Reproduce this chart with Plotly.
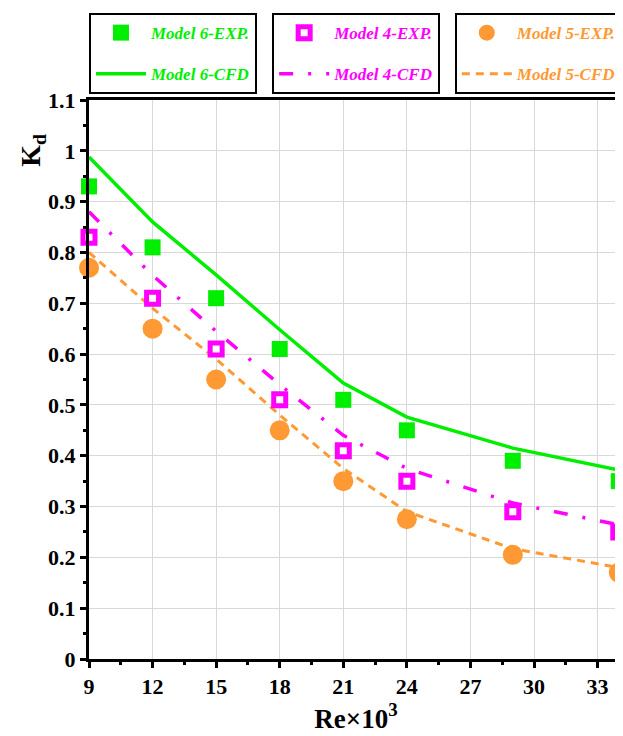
import plotly.graph_objects as go

re_vals = [9, 12, 15, 18, 21, 24, 29, 34]

m6_exp = [0.93, 0.81, 0.71, 0.61, 0.51, 0.45, 0.39, 0.35]
m4_exp = [0.83, 0.71, 0.61, 0.51, 0.41, 0.35, 0.29, 0.25]
m5_exp = [0.77, 0.65, 0.55, 0.45, 0.35, 0.275, 0.205, 0.17]

m6_cfd = [0.988, 0.86, 0.756, 0.648, 0.543, 0.476, 0.415, 0.372]
m4_cfd = [0.88, 0.755, 0.645, 0.54, 0.44, 0.375, 0.307, 0.264]
m5_cfd = [0.80, 0.69, 0.59, 0.48, 0.375, 0.29, 0.217, 0.18]

GREEN = "#00ee00"
MAGENTA = "#ff00ff"
ORANGE = "#ff9933"
SERIF = "Liberation Serif"

fig = go.Figure()

# lines
fig.add_trace(go.Scatter(x=re_vals, y=m6_cfd, mode="lines", name="Model 6-CFD",
                         line=dict(color=GREEN, width=3.5), legend="legend",
                         legendgroup="a2", legendrank=2))
fig.add_trace(go.Scatter(x=re_vals, y=m4_cfd, mode="lines", name="Model 4-CFD",
                         line=dict(color=MAGENTA, width=3.5, dash="14px,15px,3px,15px"),
                         legend="legend2", legendgroup="b2", legendrank=2))
fig.add_trace(go.Scatter(x=re_vals, y=m5_cfd, mode="lines", name="Model 5-CFD",
                         line=dict(color=ORANGE, width=3, dash="8px,6px"),
                         legend="legend3", legendgroup="c2", legendrank=2))

# markers
fig.add_trace(go.Scatter(x=re_vals, y=m6_exp, mode="markers", name="Model 6-EXP.",
                         marker=dict(symbol="square", size=16, color=GREEN),
                         cliponaxis=False, legend="legend", legendgroup="a1", legendrank=1))
fig.add_trace(go.Scatter(x=re_vals, y=m4_exp, mode="markers", name="Model 4-EXP.",
                         marker=dict(symbol="square", size=12, color="white",
                                     line=dict(color=MAGENTA, width=5)),
                         cliponaxis=False, legend="legend2", legendgroup="b1", legendrank=1))
fig.add_trace(go.Scatter(x=re_vals, y=m5_exp, mode="markers", name="Model 5-EXP.",
                         marker=dict(symbol="circle", size=20, color=ORANGE),
                         cliponaxis=False, legend="legend3", legendgroup="c1", legendrank=1))

def leg(x, color):
    return dict(x=x, y=1.1555, xanchor="left", yanchor="top",
                bordercolor="black", borderwidth=2, bgcolor="white",
                font=dict(family=SERIF, size=17, color=color, style="italic", weight="bold"),
                itemwidth=50, traceorder="grouped", tracegroupgap=16)

# page body adds an 8px offset; figure is sized so plot area lands at x 89..623, y 100..659
fig.update_layout(
    width=615, height=728, autosize=False,
    margin=dict(l=81, r=0, t=92, b=77, autoexpand=False),
    plot_bgcolor="white", paper_bgcolor="white",
    showlegend=True,
    legend=leg(0.0, GREEN),
    legend2=leg(0.343, MAGENTA),
    legend3=leg(0.685, ORANGE),
    font=dict(family=SERIF, color="black"),
)

fig.update_xaxes(
    range=[9, 34.2], tick0=9, dtick=3, automargin=False,
    showgrid=True, gridcolor="#d9d9d9", gridwidth=1,
    showline=True, linecolor="black", linewidth=3, mirror=True,
    ticks="outside", ticklen=6, tickwidth=3, tickcolor="black",
    minor=dict(dtick=1.5, ticks="outside", ticklen=3, tickwidth=3, tickcolor="black", showgrid=False),
    tickfont=dict(family=SERIF, size=22, color="black", weight="bold"),
    zeroline=False,
    title=dict(text="Re×10<sup>3</sup>", font=dict(family=SERIF, size=27, color="black", weight="bold"),
               standoff=0),
)
fig.update_yaxes(
    range=[0, 1.1], tick0=0, dtick=0.1, automargin=False,
    showgrid=True, gridcolor="#d9d9d9", gridwidth=1,
    showline=True, linecolor="black", linewidth=3,
    ticks="outside", ticklen=6, tickwidth=3, tickcolor="black",
    minor=dict(dtick=0.05, ticks="outside", ticklen=3, tickwidth=3, tickcolor="black", showgrid=False),
    tickfont=dict(family=SERIF, size=22, color="black", weight="bold"),
    zeroline=False,
)

fig.add_annotation(text="K<sub>d</sub>", xref="paper", yref="paper",
                   x=-0.105, y=0.911, xanchor="center", yanchor="middle",
                   textangle=-90, showarrow=False,
                   font=dict(family=SERIF, size=28, color="black", weight="bold"))

fig.write_html("out.html")
